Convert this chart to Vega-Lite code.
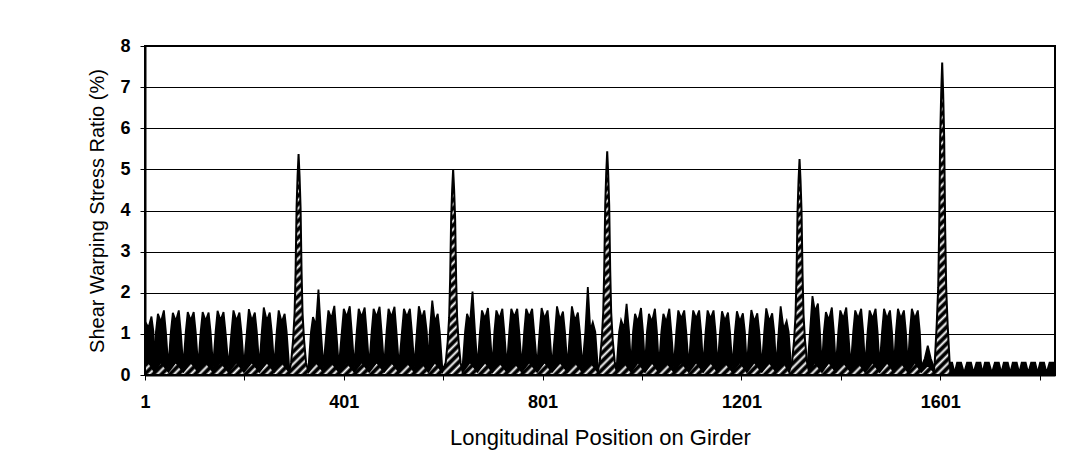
{
"$schema":"https://vega.github.io/schema/vega-lite/v6.json",
"width":910,"height":329,
"autosize":{"type":"none"},
"padding":{"left":145,"top":46,"right":30,"bottom":92},
"background":"#ffffff",
"config":{"view":{"stroke":"#000","strokeWidth":2},"axis":{"labelFont":"Liberation Sans","titleFont":"Liberation Sans","labelColor":"#000","titleColor":"#000","domainColor":"#000","tickColor":"#000"}},
"datasets":{
"main":[
{"x":1,"y":1.3},{"x":8,"y":1.15},{"x":14,"y":1.42},{"x":18,"y":1.05},{"x":20,"y":0.2},
{"x":23,"y":1.05},{"x":27,"y":1.49},{"x":33,"y":1.29},{"x":39,"y":1.57},{"x":43,"y":1.05},{"x":48,"y":0.2},
{"x":53,"y":1.05},{"x":57,"y":1.51},{"x":63,"y":1.31},{"x":69,"y":1.57},{"x":73,"y":1.05},{"x":78,"y":0.2},
{"x":83,"y":1.05},{"x":87,"y":1.53},{"x":93,"y":1.33},{"x":99,"y":1.53},{"x":103,"y":1.05},{"x":108,"y":0.2},
{"x":113,"y":1.05},{"x":117,"y":1.53},{"x":123,"y":1.32},{"x":129,"y":1.52},{"x":133,"y":1.05},{"x":138,"y":0.2},
{"x":143,"y":1.05},{"x":147,"y":1.56},{"x":153,"y":1.33},{"x":159,"y":1.53},{"x":163,"y":1.05},{"x":169,"y":0.2},
{"x":175,"y":1.05},{"x":179,"y":1.57},{"x":185,"y":1.32},{"x":191,"y":1.52},{"x":195,"y":1.05},{"x":200,"y":0.2},
{"x":206,"y":1.05},{"x":210,"y":1.60},{"x":216,"y":1.32},{"x":222,"y":1.52},{"x":226,"y":1.05},{"x":231,"y":0.2},
{"x":236,"y":1.05},{"x":240,"y":1.64},{"x":246,"y":1.32},{"x":252,"y":1.52},{"x":256,"y":1.05},{"x":261,"y":0.2},
{"x":266,"y":1.05},{"x":270,"y":1.57},{"x":276,"y":1.29},{"x":282,"y":1.49},{"x":286,"y":1.05},{"x":291,"y":0.2},
{"x":330,"y":0.2},
{"x":335,"y":1.05},{"x":339,"y":1.41},{"x":345,"y":1.21},{"x":350,"y":2.08},{"x":355,"y":1.05},{"x":360,"y":0.2},
{"x":366,"y":1.05},{"x":370,"y":1.57},{"x":376,"y":1.37},{"x":382,"y":1.68},{"x":386,"y":1.05},{"x":391,"y":0.2},
{"x":397,"y":1.05},{"x":401,"y":1.61},{"x":407,"y":1.41},{"x":413,"y":1.67},{"x":417,"y":1.05},{"x":422,"y":0.2},
{"x":427,"y":1.05},{"x":431,"y":1.61},{"x":437,"y":1.41},{"x":443,"y":1.64},{"x":447,"y":1.05},{"x":452,"y":0.2},
{"x":457,"y":1.05},{"x":461,"y":1.61},{"x":467,"y":1.41},{"x":473,"y":1.66},{"x":477,"y":1.05},{"x":482,"y":0.2},
{"x":487,"y":1.05},{"x":491,"y":1.61},{"x":497,"y":1.41},{"x":503,"y":1.66},{"x":507,"y":1.05},{"x":512,"y":0.2},
{"x":518,"y":1.05},{"x":522,"y":1.61},{"x":528,"y":1.41},{"x":534,"y":1.61},{"x":538,"y":1.05},{"x":543,"y":0.2},
{"x":548,"y":1.05},{"x":552,"y":1.67},{"x":558,"y":1.37},{"x":563,"y":1.57},{"x":568,"y":1.05},{"x":571,"y":0.2},
{"x":574,"y":1.05},{"x":579,"y":1.81},{"x":584,"y":1.29},{"x":590,"y":1.49},{"x":594,"y":1.05},{"x":599,"y":0.2},
{"x":640,"y":0.2},
{"x":645,"y":1.05},{"x":649,"y":1.49},{"x":655,"y":1.29},{"x":660,"y":2.03},{"x":665,"y":1.05},{"x":670,"y":0.2},
{"x":675,"y":1.05},{"x":679,"y":1.57},{"x":685,"y":1.37},{"x":691,"y":1.63},{"x":695,"y":1.05},{"x":700,"y":0.2},
{"x":704,"y":1.05},{"x":708,"y":1.57},{"x":714,"y":1.37},{"x":720,"y":1.61},{"x":724,"y":1.05},{"x":729,"y":0.2},
{"x":734,"y":1.05},{"x":738,"y":1.61},{"x":744,"y":1.41},{"x":750,"y":1.61},{"x":754,"y":1.05},{"x":759,"y":0.2},
{"x":764,"y":1.05},{"x":768,"y":1.61},{"x":774,"y":1.41},{"x":780,"y":1.61},{"x":784,"y":1.05},{"x":790,"y":0.2},
{"x":795,"y":1.05},{"x":799,"y":1.63},{"x":805,"y":1.37},{"x":811,"y":1.57},{"x":815,"y":1.05},{"x":820,"y":0.2},
{"x":826,"y":1.05},{"x":830,"y":1.67},{"x":836,"y":1.34},{"x":842,"y":1.54},{"x":846,"y":1.05},{"x":851,"y":0.2},
{"x":856,"y":1.05},{"x":860,"y":1.67},{"x":866,"y":1.32},{"x":872,"y":1.52},{"x":876,"y":1.05},{"x":881,"y":0.2},
{"x":887,"y":1.05},{"x":892,"y":2.14},{"x":897,"y":1.08},{"x":902,"y":1.28},{"x":907,"y":1.05},{"x":912,"y":0.2},
{"x":950,"y":0.2},
{"x":955,"y":1.05},{"x":959,"y":1.33},{"x":965,"y":1.13},{"x":970,"y":1.73},{"x":975,"y":1.05},{"x":979,"y":0.2},
{"x":983,"y":1.05},{"x":987,"y":1.49},{"x":993,"y":1.29},{"x":999,"y":1.63},{"x":1003,"y":1.05},{"x":1007,"y":0.2},
{"x":1011,"y":1.05},{"x":1015,"y":1.49},{"x":1021,"y":1.29},{"x":1027,"y":1.61},{"x":1031,"y":1.05},{"x":1035,"y":0.2},
{"x":1040,"y":1.05},{"x":1044,"y":1.49},{"x":1050,"y":1.29},{"x":1056,"y":1.61},{"x":1060,"y":1.05},{"x":1065,"y":0.2},
{"x":1070,"y":1.05},{"x":1074,"y":1.57},{"x":1080,"y":1.37},{"x":1086,"y":1.57},{"x":1090,"y":1.05},{"x":1095,"y":0.2},
{"x":1100,"y":1.05},{"x":1104,"y":1.57},{"x":1110,"y":1.37},{"x":1116,"y":1.57},{"x":1120,"y":1.05},{"x":1124,"y":0.2},
{"x":1129,"y":1.05},{"x":1133,"y":1.57},{"x":1139,"y":1.37},{"x":1145,"y":1.57},{"x":1149,"y":1.05},{"x":1153,"y":0.2},
{"x":1158,"y":1.05},{"x":1162,"y":1.55},{"x":1168,"y":1.32},{"x":1174,"y":1.52},{"x":1178,"y":1.05},{"x":1183,"y":0.2},
{"x":1188,"y":1.05},{"x":1192,"y":1.55},{"x":1198,"y":1.30},{"x":1204,"y":1.50},{"x":1208,"y":1.05},{"x":1212,"y":0.2},
{"x":1217,"y":1.05},{"x":1221,"y":1.58},{"x":1227,"y":1.30},{"x":1233,"y":1.50},{"x":1237,"y":1.05},{"x":1242,"y":0.2},
{"x":1247,"y":1.05},{"x":1251,"y":1.62},{"x":1257,"y":1.30},{"x":1263,"y":1.50},{"x":1267,"y":1.05},{"x":1271,"y":0.2},
{"x":1276,"y":1.05},{"x":1280,"y":1.67},{"x":1286,"y":1.11},{"x":1292,"y":1.31},{"x":1296,"y":1.05},{"x":1301,"y":0.2},
{"x":1334,"y":0.2},
{"x":1339,"y":1.05},{"x":1344,"y":1.92},{"x":1349,"y":1.54},{"x":1355,"y":1.74},{"x":1359,"y":1.05},{"x":1363,"y":0.2},
{"x":1367,"y":1.05},{"x":1371,"y":1.53},{"x":1377,"y":1.33},{"x":1383,"y":1.64},{"x":1387,"y":1.05},{"x":1391,"y":0.2},
{"x":1396,"y":1.05},{"x":1400,"y":1.57},{"x":1406,"y":1.37},{"x":1412,"y":1.64},{"x":1416,"y":1.05},{"x":1421,"y":0.2},
{"x":1426,"y":1.05},{"x":1430,"y":1.57},{"x":1436,"y":1.37},{"x":1442,"y":1.61},{"x":1446,"y":1.05},{"x":1450,"y":0.2},
{"x":1455,"y":1.05},{"x":1459,"y":1.57},{"x":1465,"y":1.37},{"x":1471,"y":1.61},{"x":1475,"y":1.05},{"x":1479,"y":0.2},
{"x":1484,"y":1.05},{"x":1488,"y":1.61},{"x":1494,"y":1.37},{"x":1500,"y":1.57},{"x":1504,"y":1.05},{"x":1508,"y":0.2},
{"x":1512,"y":1.05},{"x":1516,"y":1.61},{"x":1522,"y":1.37},{"x":1528,"y":1.57},{"x":1532,"y":1.05},{"x":1536,"y":0.2},
{"x":1540,"y":1.05},{"x":1544,"y":1.61},{"x":1550,"y":1.37},{"x":1556,"y":1.57},{"x":1560,"y":1.05},{"x":1563,"y":0.2},
{"x":1570,"y":0.4},{"x":1576,"y":0.71},{"x":1582,"y":0.4},{"x":1588,"y":0.2},{"x":1605,"y":0.2},{"x":1612,"y":0.05},
{"x":1617,"y":0.3},{"x":1625,"y":0.3},{"x":1630,"y":0.05},{"x":1635,"y":0.3},{"x":1643,"y":0.3},{"x":1649,"y":0.05},
{"x":1655,"y":0.3},{"x":1663,"y":0.3},{"x":1668,"y":0.05},{"x":1674,"y":0.3},{"x":1682,"y":0.3},{"x":1686,"y":0.05},
{"x":1691,"y":0.3},{"x":1699,"y":0.3},{"x":1705,"y":0.05},{"x":1711,"y":0.3},{"x":1719,"y":0.3},{"x":1724,"y":0.05},
{"x":1729,"y":0.3},{"x":1737,"y":0.3},{"x":1742,"y":0.05},{"x":1747,"y":0.3},{"x":1755,"y":0.3},{"x":1760,"y":0.05},
{"x":1765,"y":0.3},{"x":1773,"y":0.3},{"x":1778,"y":0.05},{"x":1784,"y":0.3},{"x":1792,"y":0.3},{"x":1797,"y":0.05},
{"x":1802,"y":0.3},{"x":1810,"y":0.3},{"x":1815,"y":0.05},{"x":1821,"y":0.3},{"x":1829,"y":0.3},{"x":1832,"y":0.28}
],
"hatch":[
{"x":1,"y":0.3},{"x":8,"y":0.32},{"x":20,"y":0.08},{"x":33,"y":0.32},{"x":48,"y":0.08},{"x":63,"y":0.32},{"x":78,"y":0.08},
{"x":93,"y":0.32},{"x":108,"y":0.08},{"x":123,"y":0.32},{"x":138,"y":0.08},{"x":153,"y":0.32},{"x":169,"y":0.08},
{"x":185,"y":0.32},{"x":200,"y":0.08},{"x":216,"y":0.32},{"x":231,"y":0.08},{"x":246,"y":0.32},{"x":261,"y":0.08},
{"x":276,"y":0.32},{"x":291,"y":0.08},
{"x":295,"y":0.3},{"x":299,"y":0.86},{"x":302,"y":1.5},{"x":304,"y":2.52},{"x":306,"y":4.08},{"x":308,"y":4.83},{"x":310,"y":5.37},
{"x":312,"y":4.83},{"x":314,"y":4.08},{"x":316,"y":2.52},{"x":318,"y":1.5},{"x":321,"y":0.86},{"x":325,"y":0.3},{"x":330,"y":0.08},
{"x":345,"y":0.32},{"x":360,"y":0.08},{"x":376,"y":0.32},{"x":391,"y":0.08},{"x":407,"y":0.32},{"x":422,"y":0.08},
{"x":437,"y":0.32},{"x":452,"y":0.08},{"x":467,"y":0.32},{"x":482,"y":0.08},{"x":497,"y":0.32},{"x":512,"y":0.08},
{"x":528,"y":0.32},{"x":543,"y":0.08},{"x":558,"y":0.32},{"x":571,"y":0.08},{"x":584,"y":0.32},{"x":599,"y":0.08},
{"x":606,"y":0.3},{"x":610,"y":0.8},{"x":613,"y":1.4},{"x":615,"y":2.35},{"x":617,"y":3.8},{"x":619,"y":4.5},{"x":621,"y":5.0},
{"x":623,"y":4.5},{"x":625,"y":3.8},{"x":627,"y":2.35},{"x":629,"y":1.4},{"x":632,"y":0.8},{"x":636,"y":0.3},{"x":640,"y":0.08},
{"x":655,"y":0.32},{"x":670,"y":0.08},{"x":685,"y":0.32},{"x":700,"y":0.08},{"x":714,"y":0.32},{"x":729,"y":0.08},
{"x":744,"y":0.32},{"x":759,"y":0.08},{"x":774,"y":0.32},{"x":790,"y":0.08},{"x":805,"y":0.32},{"x":820,"y":0.08},
{"x":836,"y":0.32},{"x":851,"y":0.08},{"x":866,"y":0.32},{"x":881,"y":0.08},{"x":897,"y":0.32},{"x":912,"y":0.08},
{"x":916,"y":0.33},{"x":920,"y":0.87},{"x":923,"y":1.52},{"x":925,"y":2.56},{"x":927,"y":4.13},{"x":929,"y":4.9},{"x":931,"y":5.44},
{"x":933,"y":4.9},{"x":935,"y":4.13},{"x":937,"y":2.56},{"x":939,"y":1.52},{"x":942,"y":0.87},{"x":946,"y":0.33},{"x":950,"y":0.08},
{"x":965,"y":0.32},{"x":979,"y":0.08},{"x":993,"y":0.32},{"x":1007,"y":0.08},{"x":1021,"y":0.32},{"x":1035,"y":0.08},
{"x":1050,"y":0.32},{"x":1065,"y":0.08},{"x":1080,"y":0.32},{"x":1095,"y":0.08},{"x":1110,"y":0.32},{"x":1124,"y":0.08},
{"x":1139,"y":0.32},{"x":1153,"y":0.08},{"x":1168,"y":0.32},{"x":1183,"y":0.08},{"x":1198,"y":0.32},{"x":1212,"y":0.08},
{"x":1227,"y":0.32},{"x":1242,"y":0.08},{"x":1257,"y":0.32},{"x":1271,"y":0.08},{"x":1286,"y":0.32},{"x":1297,"y":0.08},
{"x":1303,"y":0.32},{"x":1307,"y":0.84},{"x":1310,"y":1.47},{"x":1312,"y":2.47},{"x":1314,"y":3.99},{"x":1316,"y":4.73},{"x":1318,"y":5.25},
{"x":1320,"y":4.73},{"x":1322,"y":3.99},{"x":1324,"y":2.47},{"x":1326,"y":1.47},{"x":1329,"y":0.84},{"x":1333,"y":0.32},{"x":1337,"y":0.08},
{"x":1349,"y":0.32},{"x":1363,"y":0.08},{"x":1377,"y":0.32},{"x":1391,"y":0.08},{"x":1406,"y":0.32},{"x":1421,"y":0.08},
{"x":1436,"y":0.32},{"x":1450,"y":0.08},{"x":1465,"y":0.32},{"x":1479,"y":0.08},{"x":1494,"y":0.32},{"x":1508,"y":0.08},
{"x":1522,"y":0.32},{"x":1536,"y":0.08},{"x":1550,"y":0.32},{"x":1563,"y":0.08},{"x":1576,"y":0.25},{"x":1588,"y":0.08},
{"x":1590,"y":0.3},{"x":1594,"y":1.22},{"x":1597,"y":2.13},{"x":1599,"y":3.57},{"x":1601,"y":5.78},{"x":1603,"y":6.84},{"x":1605,"y":7.6},
{"x":1607,"y":6.84},{"x":1609,"y":5.78},{"x":1611,"y":3.57},{"x":1613,"y":2.13},{"x":1616,"y":1.22},{"x":1620,"y":0.3},{"x":1622,"y":0}
]
},
"encoding":{
"x":{"field":"x","type":"quantitative","scale":{"domain":[1,1832],"nice":false,"zero":false},
"axis":{"values":[1,201,401,601,801,1001,1201,1401,1601,1801],"format":"d","labelExpr":"(datum.value - 1) % 400 == 0 ? datum.label : ''","grid":false,"tickSize":5,"domainWidth":2,"labelFontSize":18,"labelFontWeight":"bold","labelPadding":13,"labelFlush":false,"labelOverlap":false,"title":"Longitudinal Position on Girder","titleFontSize":22,"titleFontWeight":"normal","titlePadding":16}},
"y":{"field":"y","type":"quantitative","scale":{"domain":[0,8],"nice":false,"zero":true},
"axis":{"values":[0,1,2,3,4,5,6,7,8],"format":"d","grid":true,"gridColor":"#000","gridWidth":1,"gridOpacity":1,"tickSize":5,"domainWidth":2,"labelFontSize":18,"labelFontWeight":"bold","labelPadding":10,"title":"Shear Warping Stress Ratio (%)","titleFontSize":20,"titleFontWeight":"normal","titlePadding":12}}
},
"layer":[
{"data":{"name":"main"},"mark":{"type":"area","fill":"#000","stroke":"#000","strokeWidth":1.8,"strokeJoin":"miter","clip":true}},
{"data":{"name":"hatch"},"mark":{"type":"area","stroke":"#000","strokeWidth":2,"clip":true,"fill":{"gradient":"linear","x1":0,"y1":0,"x2":1.206,"y2":0.468,"stops":[
{"offset":0,"color":"#000"},{"offset":0.0025,"color":"#000"},{"offset":0.005,"color":"#fff"},{"offset":0.0075,"color":"#000"},
{"offset":0.01,"color":"#000"},{"offset":0.0125,"color":"#fff"},{"offset":0.015,"color":"#000"},{"offset":0.0175,"color":"#000"},
{"offset":0.02,"color":"#fff"},{"offset":0.0225,"color":"#000"},{"offset":0.025,"color":"#000"},{"offset":0.0275,"color":"#fff"},
{"offset":0.03,"color":"#000"},{"offset":0.0325,"color":"#000"},{"offset":0.035,"color":"#fff"},{"offset":0.0375,"color":"#000"},
{"offset":0.04,"color":"#000"},{"offset":0.0425,"color":"#fff"},{"offset":0.045,"color":"#000"},{"offset":0.0475,"color":"#000"},
{"offset":0.05,"color":"#fff"},{"offset":0.0525,"color":"#000"},{"offset":0.055,"color":"#000"},{"offset":0.0575,"color":"#fff"},
{"offset":0.06,"color":"#000"},{"offset":0.0625,"color":"#000"},{"offset":0.065,"color":"#fff"},{"offset":0.0675,"color":"#000"},
{"offset":0.07,"color":"#000"},{"offset":0.0725,"color":"#fff"},{"offset":0.075,"color":"#000"},{"offset":0.0775,"color":"#000"},
{"offset":0.08,"color":"#fff"},{"offset":0.0825,"color":"#000"},{"offset":0.085,"color":"#000"},{"offset":0.0875,"color":"#fff"},
{"offset":0.09,"color":"#000"},{"offset":0.0925,"color":"#000"},{"offset":0.095,"color":"#fff"},{"offset":0.0975,"color":"#000"},
{"offset":0.10,"color":"#000"},{"offset":0.1025,"color":"#fff"},{"offset":0.105,"color":"#000"},{"offset":0.1075,"color":"#000"},
{"offset":0.11,"color":"#fff"},{"offset":0.1125,"color":"#000"},{"offset":0.115,"color":"#000"},{"offset":0.1175,"color":"#fff"},
{"offset":0.12,"color":"#000"},{"offset":0.1225,"color":"#000"},{"offset":0.125,"color":"#fff"},{"offset":0.1275,"color":"#000"},
{"offset":0.13,"color":"#000"},{"offset":0.1325,"color":"#fff"},{"offset":0.135,"color":"#000"},{"offset":0.1375,"color":"#000"},
{"offset":0.14,"color":"#fff"},{"offset":0.1425,"color":"#000"},{"offset":0.145,"color":"#000"},{"offset":0.1475,"color":"#fff"},
{"offset":0.15,"color":"#000"},{"offset":0.1525,"color":"#000"},{"offset":0.155,"color":"#fff"},{"offset":0.1575,"color":"#000"},
{"offset":0.16,"color":"#000"},{"offset":0.1625,"color":"#fff"},{"offset":0.165,"color":"#000"},{"offset":0.1675,"color":"#000"},
{"offset":0.17,"color":"#fff"},{"offset":0.1725,"color":"#000"},{"offset":0.175,"color":"#000"},{"offset":0.1775,"color":"#fff"},
{"offset":0.18,"color":"#000"},{"offset":0.1825,"color":"#000"},{"offset":0.185,"color":"#fff"},{"offset":0.1875,"color":"#000"},
{"offset":0.19,"color":"#000"},{"offset":0.1925,"color":"#fff"},{"offset":0.195,"color":"#000"},{"offset":0.1975,"color":"#000"},
{"offset":0.20,"color":"#fff"},{"offset":0.2025,"color":"#000"},{"offset":0.205,"color":"#000"},{"offset":0.2075,"color":"#fff"},
{"offset":0.21,"color":"#000"},{"offset":0.2125,"color":"#000"},{"offset":0.215,"color":"#fff"},{"offset":0.2175,"color":"#000"},
{"offset":0.22,"color":"#000"},{"offset":0.2225,"color":"#fff"},{"offset":0.225,"color":"#000"},{"offset":0.2275,"color":"#000"},
{"offset":0.23,"color":"#fff"},{"offset":0.2325,"color":"#000"},{"offset":0.235,"color":"#000"},{"offset":0.2375,"color":"#fff"},
{"offset":0.24,"color":"#000"},{"offset":0.2425,"color":"#000"},{"offset":0.245,"color":"#fff"},{"offset":0.2475,"color":"#000"},
{"offset":0.25,"color":"#000"},{"offset":0.2525,"color":"#fff"},{"offset":0.255,"color":"#000"},{"offset":0.2575,"color":"#000"},
{"offset":0.26,"color":"#fff"},{"offset":0.2625,"color":"#000"},{"offset":0.265,"color":"#000"},{"offset":0.2675,"color":"#fff"},
{"offset":0.27,"color":"#000"},{"offset":0.2725,"color":"#000"},{"offset":0.275,"color":"#fff"},{"offset":0.2775,"color":"#000"},
{"offset":0.28,"color":"#000"},{"offset":0.2825,"color":"#fff"},{"offset":0.285,"color":"#000"},{"offset":0.2875,"color":"#000"},
{"offset":0.29,"color":"#fff"},{"offset":0.2925,"color":"#000"},{"offset":0.295,"color":"#000"},{"offset":0.2975,"color":"#fff"},
{"offset":0.30,"color":"#000"},{"offset":0.3025,"color":"#000"},{"offset":0.305,"color":"#fff"},{"offset":0.3075,"color":"#000"},
{"offset":0.31,"color":"#000"},{"offset":0.3125,"color":"#fff"},{"offset":0.315,"color":"#000"},{"offset":0.3175,"color":"#000"},
{"offset":0.32,"color":"#fff"},{"offset":0.3225,"color":"#000"},{"offset":0.325,"color":"#000"},{"offset":0.3275,"color":"#fff"},
{"offset":0.33,"color":"#000"},{"offset":0.3325,"color":"#000"},{"offset":0.335,"color":"#fff"},{"offset":0.3375,"color":"#000"},
{"offset":0.34,"color":"#000"},{"offset":0.3425,"color":"#fff"},{"offset":0.345,"color":"#000"},{"offset":0.3475,"color":"#000"},
{"offset":0.35,"color":"#fff"},{"offset":0.3525,"color":"#000"},{"offset":0.355,"color":"#000"},{"offset":0.3575,"color":"#fff"},
{"offset":0.36,"color":"#000"},{"offset":0.3625,"color":"#000"},{"offset":0.365,"color":"#fff"},{"offset":0.3675,"color":"#000"},
{"offset":0.37,"color":"#000"},{"offset":0.3725,"color":"#fff"},{"offset":0.375,"color":"#000"},{"offset":0.3775,"color":"#000"},
{"offset":0.38,"color":"#fff"},{"offset":0.3825,"color":"#000"},{"offset":0.385,"color":"#000"},{"offset":0.3875,"color":"#fff"},
{"offset":0.39,"color":"#000"},{"offset":0.3925,"color":"#000"},{"offset":0.395,"color":"#fff"},{"offset":0.3975,"color":"#000"},
{"offset":0.40,"color":"#000"},{"offset":0.4025,"color":"#fff"},{"offset":0.405,"color":"#000"},{"offset":0.4075,"color":"#000"},
{"offset":0.41,"color":"#fff"},{"offset":0.4125,"color":"#000"},{"offset":0.415,"color":"#000"},{"offset":0.4175,"color":"#fff"},
{"offset":0.42,"color":"#000"},{"offset":0.4225,"color":"#000"},{"offset":0.425,"color":"#fff"},{"offset":0.4275,"color":"#000"},
{"offset":0.43,"color":"#000"},{"offset":0.4325,"color":"#fff"},{"offset":0.435,"color":"#000"},{"offset":0.4375,"color":"#000"},
{"offset":0.44,"color":"#fff"},{"offset":0.4425,"color":"#000"},{"offset":0.445,"color":"#000"},{"offset":0.4475,"color":"#fff"},
{"offset":0.45,"color":"#000"},{"offset":0.4525,"color":"#000"},{"offset":0.455,"color":"#fff"},{"offset":0.4575,"color":"#000"},
{"offset":0.46,"color":"#000"},{"offset":0.4625,"color":"#fff"},{"offset":0.465,"color":"#000"},{"offset":0.4675,"color":"#000"},
{"offset":0.47,"color":"#fff"},{"offset":0.4725,"color":"#000"},{"offset":0.475,"color":"#000"},{"offset":0.4775,"color":"#fff"},
{"offset":0.48,"color":"#000"},{"offset":0.4825,"color":"#000"},{"offset":0.485,"color":"#fff"},{"offset":0.4875,"color":"#000"},
{"offset":0.49,"color":"#000"},{"offset":0.4925,"color":"#fff"},{"offset":0.495,"color":"#000"},{"offset":0.4975,"color":"#000"},
{"offset":0.50,"color":"#fff"},{"offset":0.5025,"color":"#000"},{"offset":0.505,"color":"#000"},{"offset":0.5075,"color":"#fff"},
{"offset":0.51,"color":"#000"},{"offset":0.5125,"color":"#000"},{"offset":0.515,"color":"#fff"},{"offset":0.5175,"color":"#000"},
{"offset":0.52,"color":"#000"},{"offset":0.5225,"color":"#fff"},{"offset":0.525,"color":"#000"},{"offset":0.5275,"color":"#000"},
{"offset":0.53,"color":"#fff"},{"offset":0.5325,"color":"#000"},{"offset":0.535,"color":"#000"},{"offset":0.5375,"color":"#fff"},
{"offset":0.54,"color":"#000"},{"offset":0.5425,"color":"#000"},{"offset":0.545,"color":"#fff"},{"offset":0.5475,"color":"#000"},
{"offset":0.55,"color":"#000"},{"offset":0.5525,"color":"#fff"},{"offset":0.555,"color":"#000"},{"offset":0.5575,"color":"#000"},
{"offset":0.56,"color":"#fff"},{"offset":0.5625,"color":"#000"},{"offset":0.565,"color":"#000"},{"offset":0.5675,"color":"#fff"},
{"offset":0.57,"color":"#000"},{"offset":0.5725,"color":"#000"},{"offset":0.575,"color":"#fff"},{"offset":0.5775,"color":"#000"},
{"offset":0.58,"color":"#000"},{"offset":0.5825,"color":"#fff"},{"offset":0.585,"color":"#000"},{"offset":0.5875,"color":"#000"},
{"offset":0.59,"color":"#fff"},{"offset":0.5925,"color":"#000"},{"offset":0.595,"color":"#000"},{"offset":0.5975,"color":"#fff"},
{"offset":0.60,"color":"#000"},{"offset":0.6025,"color":"#000"},{"offset":0.605,"color":"#fff"},{"offset":0.6075,"color":"#000"},
{"offset":0.61,"color":"#000"},{"offset":0.6125,"color":"#fff"},{"offset":0.615,"color":"#000"},{"offset":0.6175,"color":"#000"},
{"offset":0.62,"color":"#fff"},{"offset":0.6225,"color":"#000"},{"offset":0.625,"color":"#000"},{"offset":0.6275,"color":"#fff"},
{"offset":0.63,"color":"#000"},{"offset":0.6325,"color":"#000"},{"offset":0.635,"color":"#fff"},{"offset":0.6375,"color":"#000"},
{"offset":0.64,"color":"#000"},{"offset":0.6425,"color":"#fff"},{"offset":0.645,"color":"#000"},{"offset":0.6475,"color":"#000"},
{"offset":0.65,"color":"#fff"},{"offset":0.6525,"color":"#000"},{"offset":0.655,"color":"#000"},{"offset":0.6575,"color":"#fff"},
{"offset":0.66,"color":"#000"},{"offset":0.6625,"color":"#000"},{"offset":0.665,"color":"#fff"},{"offset":0.6675,"color":"#000"},
{"offset":0.67,"color":"#000"},{"offset":0.6725,"color":"#fff"},{"offset":0.675,"color":"#000"},{"offset":0.6775,"color":"#000"},
{"offset":0.68,"color":"#fff"},{"offset":0.6825,"color":"#000"},{"offset":0.685,"color":"#000"},{"offset":0.6875,"color":"#fff"},
{"offset":0.69,"color":"#000"},{"offset":0.6925,"color":"#000"},{"offset":0.695,"color":"#fff"},{"offset":0.6975,"color":"#000"},
{"offset":0.70,"color":"#000"},{"offset":0.7025,"color":"#fff"},{"offset":0.705,"color":"#000"},{"offset":0.7075,"color":"#000"},
{"offset":0.71,"color":"#fff"},{"offset":0.7125,"color":"#000"},{"offset":0.715,"color":"#000"},{"offset":0.7175,"color":"#fff"},
{"offset":0.72,"color":"#000"},{"offset":0.7225,"color":"#000"},{"offset":0.725,"color":"#fff"},{"offset":0.7275,"color":"#000"},
{"offset":0.73,"color":"#000"},{"offset":0.7325,"color":"#fff"},{"offset":0.735,"color":"#000"},{"offset":0.7375,"color":"#000"},
{"offset":0.74,"color":"#fff"},{"offset":0.7425,"color":"#000"},{"offset":0.745,"color":"#000"},{"offset":0.7475,"color":"#fff"},
{"offset":0.75,"color":"#000"},{"offset":0.7525,"color":"#000"},{"offset":0.755,"color":"#fff"},{"offset":0.7575,"color":"#000"},
{"offset":0.76,"color":"#000"},{"offset":0.7625,"color":"#fff"},{"offset":0.765,"color":"#000"},{"offset":0.7675,"color":"#000"},
{"offset":0.77,"color":"#fff"},{"offset":0.7725,"color":"#000"},{"offset":0.775,"color":"#000"},{"offset":0.7775,"color":"#fff"},
{"offset":0.78,"color":"#000"},{"offset":0.7825,"color":"#000"},{"offset":0.785,"color":"#fff"},{"offset":0.7875,"color":"#000"},
{"offset":0.79,"color":"#000"},{"offset":0.7925,"color":"#fff"},{"offset":0.795,"color":"#000"},{"offset":0.7975,"color":"#000"},
{"offset":0.80,"color":"#fff"},{"offset":0.8025,"color":"#000"},{"offset":0.805,"color":"#000"},{"offset":0.8075,"color":"#fff"},
{"offset":0.81,"color":"#000"},{"offset":0.8125,"color":"#000"},{"offset":0.815,"color":"#fff"},{"offset":0.8175,"color":"#000"},
{"offset":0.82,"color":"#000"},{"offset":0.8225,"color":"#fff"},{"offset":0.825,"color":"#000"},{"offset":0.8275,"color":"#000"},
{"offset":0.83,"color":"#fff"},{"offset":0.8325,"color":"#000"},{"offset":0.835,"color":"#000"},{"offset":0.8375,"color":"#fff"},
{"offset":0.84,"color":"#000"},{"offset":0.8425,"color":"#000"},{"offset":0.845,"color":"#fff"},{"offset":0.8475,"color":"#000"},
{"offset":0.85,"color":"#000"},{"offset":0.8525,"color":"#fff"},{"offset":0.855,"color":"#000"},{"offset":0.8575,"color":"#000"},
{"offset":0.86,"color":"#fff"},{"offset":0.8625,"color":"#000"},{"offset":0.865,"color":"#000"},{"offset":0.8675,"color":"#fff"},
{"offset":0.87,"color":"#000"},{"offset":0.8725,"color":"#000"},{"offset":0.875,"color":"#fff"},{"offset":0.8775,"color":"#000"},
{"offset":0.88,"color":"#000"},{"offset":0.8825,"color":"#fff"},{"offset":0.885,"color":"#000"},{"offset":0.8875,"color":"#000"},
{"offset":0.89,"color":"#fff"},{"offset":0.8925,"color":"#000"},{"offset":0.895,"color":"#000"},{"offset":0.8975,"color":"#fff"},
{"offset":0.90,"color":"#000"},{"offset":0.9025,"color":"#000"},{"offset":0.905,"color":"#fff"},{"offset":0.9075,"color":"#000"},
{"offset":0.91,"color":"#000"},{"offset":0.9125,"color":"#fff"},{"offset":0.915,"color":"#000"},{"offset":0.9175,"color":"#000"},
{"offset":0.92,"color":"#fff"},{"offset":0.9225,"color":"#000"},{"offset":0.925,"color":"#000"},{"offset":0.9275,"color":"#fff"},
{"offset":0.93,"color":"#000"},{"offset":0.9325,"color":"#000"},{"offset":0.935,"color":"#fff"},{"offset":0.9375,"color":"#000"},
{"offset":0.94,"color":"#000"},{"offset":0.9425,"color":"#fff"},{"offset":0.945,"color":"#000"},{"offset":0.9475,"color":"#000"},
{"offset":0.95,"color":"#fff"},{"offset":0.9525,"color":"#000"},{"offset":0.955,"color":"#000"},{"offset":0.9575,"color":"#fff"},
{"offset":0.96,"color":"#000"},{"offset":0.9625,"color":"#000"},{"offset":0.965,"color":"#fff"},{"offset":0.9675,"color":"#000"},
{"offset":0.97,"color":"#000"},{"offset":0.9725,"color":"#fff"},{"offset":0.975,"color":"#000"},{"offset":0.9775,"color":"#000"},
{"offset":0.98,"color":"#fff"},{"offset":0.9825,"color":"#000"},{"offset":0.985,"color":"#000"},{"offset":0.9875,"color":"#fff"},
{"offset":0.99,"color":"#000"},{"offset":0.9925,"color":"#000"},{"offset":0.995,"color":"#fff"},{"offset":0.9975,"color":"#000"},
{"offset":1,"color":"#000"}
]}}}
]
}
